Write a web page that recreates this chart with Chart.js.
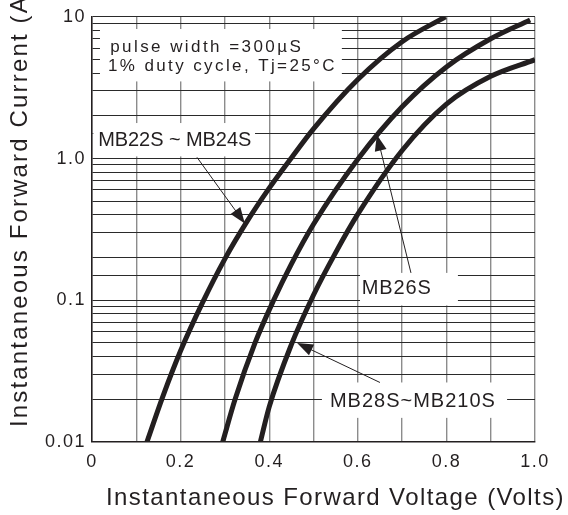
<!DOCTYPE html>
<html>
<head>
<meta charset="utf-8">
<script src="https://cdn.jsdelivr.net/npm/chart.js@4.4.1/dist/chart.umd.min.js"></script>
<style>
  html, body { margin: 0; padding: 0; background: #fff; }
  canvas { display: block; }
</style>
</head>
<body>
<canvas id="ivChart" width="568" height="515"></canvas>
<script>
// forward voltage (V) / forward current (A)
const voltsA = [0.124, 0.160, 0.200, 0.250, 0.300, 0.350, 0.400, 0.450, 0.500, 0.600, 0.700, 0.798];
const ampsA  = [0.010, 0.021, 0.044, 0.097, 0.196, 0.360, 0.618, 1.01, 1.62, 3.61, 6.67, 10.0];

const voltsB = [0.295, 0.323, 0.368, 0.410, 0.450, 0.500, 0.600, 0.700, 0.800, 0.900, 0.989];
const ampsB  = [0.010, 0.020, 0.050, 0.100, 0.180, 0.344, 0.990, 2.32, 4.43, 7.00, 9.50];

const voltsC = [0.380, 0.400, 0.450, 0.500, 0.550, 0.600, 0.700, 0.800, 0.900, 1.000];
const ampsC  = [0.010, 0.0177, 0.0486, 0.109, 0.217, 0.405, 1.14, 2.42, 3.80, 4.98];

const xTickLabels = ["0", "0.2", "0.4", "0.6", "0.8", "1.0"];
const yTickValues = [0.01, 0.1, 1, 10];
const yTickLabels = ["0.01", "0.1", "1.0", "10"];

const FONT = '"Liberation Sans", Arial, sans-serif';
const INK = "#231f20";

// white boxes behind the notes, [x0, x1, yTop, yBottom] in data units
const noteBoxes = [
  [0.018, 0.564, 8.2, 3.5],
  [0.003, 0.368, 1.78, 1.035],
  [0.605, 0.826, 0.156, 0.092],
  [0.519, 0.937, 0.0263, 0.0148]
];
// note texts: [text, x, y, font px, width px]
const noteTexts = [
  ["pulse width =300µS", 0.041, 6.13, 17, 193],
  ["1% duty cycle, Tj=25°C", 0.036, 4.45, 17, 229],
  ["MB22S ~ MB24S", 0.014, 1.34, 20, 153],
  ["MB26S", 0.609, 0.1206, 20, 70],
  ["MB28S~MB210S", 0.537, 0.0194, 20, 166]
];
// arrows: [fromX, fromY, toX, toY]
const noteArrows = [
  [0.237, 1.02, 0.345, 0.348],
  [0.720, 0.156, 0.643, 1.47],
  [0.650, 0.0263, 0.463, 0.0499]
];

function pts(xs, ys) { return xs.map((x, i) => ({ x: x, y: ys[i] })); }

function spacedText(ctx, str, x, y, size, width) {
  ctx.font = size + "px " + FONT;
  ctx.letterSpacing = "0px";
  const w = ctx.measureText(str).width;
  ctx.letterSpacing = ((width - w) / str.length) + "px";
  ctx.fillText(str, x, y);
  ctx.letterSpacing = "0px";
}

const notesPlugin = {
  id: "notes",
  beforeDraw(chart) { chart.ctx.letterSpacing = "1.5px"; },
  beforeDatasetsDraw(chart) {
    const ctx = chart.ctx, sx = chart.scales.x, sy = chart.scales.y;
    ctx.save();
    ctx.letterSpacing = "0px";
    ctx.fillStyle = "#fff";
    noteBoxes.forEach(b => {
      const x0 = sx.getPixelForValue(b[0]), x1 = sx.getPixelForValue(b[1]);
      const y0 = sy.getPixelForValue(b[2]), y1 = sy.getPixelForValue(b[3]);
      ctx.fillRect(x0, y0, x1 - x0, y1 - y0);
    });
    ctx.restore();
  },
  afterDatasetsDraw(chart) {
    const ctx = chart.ctx, sx = chart.scales.x, sy = chart.scales.y;
    ctx.save();
    ctx.fillStyle = INK;
    ctx.strokeStyle = INK;
    ctx.textAlign = "left";
    ctx.textBaseline = "middle";
    noteTexts.forEach(t => {
      spacedText(ctx, t[0], sx.getPixelForValue(t[1]), sy.getPixelForValue(t[2]), t[3], t[4]);
    });
    noteArrows.forEach(a => {
      const x0 = sx.getPixelForValue(a[0]), y0 = sy.getPixelForValue(a[1]);
      const x1 = sx.getPixelForValue(a[2]), y1 = sy.getPixelForValue(a[3]);
      const ang = Math.atan2(y1 - y0, x1 - x0);
      ctx.lineWidth = 1;
      ctx.beginPath();
      ctx.moveTo(x0, y0);
      ctx.lineTo(x1 - 12 * Math.cos(ang), y1 - 12 * Math.sin(ang));
      ctx.stroke();
      ctx.beginPath();
      ctx.moveTo(x1, y1);
      ctx.lineTo(x1 - 16 * Math.cos(ang) + 6 * Math.sin(ang), y1 - 16 * Math.sin(ang) - 6 * Math.cos(ang));
      ctx.lineTo(x1 - 16 * Math.cos(ang) - 6 * Math.sin(ang), y1 - 16 * Math.sin(ang) + 6 * Math.cos(ang));
      ctx.closePath();
      ctx.fill();
    });

    // axis titles
    ctx.textBaseline = "alphabetic";
    spacedText(ctx, "Instantaneous Forward Voltage (Volts)", 106, 505, 24, 459);
    ctx.translate(27, 427);
    ctx.rotate(-Math.PI / 2);
    spacedText(ctx, "Instantaneous Forward Current (A)", 0, 0, 24, 442);
    ctx.restore();
  },
  afterDraw(chart) { chart.ctx.letterSpacing = "0px"; }
};

const curve = (data) => ({
  data: data,
  showLine: true,
  borderColor: INK,
  borderWidth: 5,
  pointRadius: 0,
  cubicInterpolationMode: "monotone",
  borderCapStyle: "butt"
});

new Chart(document.getElementById("ivChart").getContext("2d"), {
  type: "scatter",
  data: {
    datasets: [curve(pts(voltsA, ampsA)), curve(pts(voltsB, ampsB)), curve(pts(voltsC, ampsC))]
  },
  options: {
    responsive: false,
    animation: false,
    events: [],
    layout: { padding: { top: 11.5, right: 33, left: 0, bottom: 0 } },
    plugins: { legend: { display: false }, tooltip: { enabled: false } },
    scales: {
      x: {
        type: "linear", min: 0, max: 1,
        afterFit: s => { s.height = 73; },
        ticks: {
          stepSize: 0.1, autoSkip: false, maxRotation: 0, padding: 9,
          color: INK, font: { family: FONT, size: 18 },
          callback: (v, i) => (i % 2 === 0 ? xTickLabels[i / 2] : "")
        },
        grid: { color: "#8c8c8c", lineWidth: 1.4, drawTicks: false },
        border: { color: INK, width: 1.5 }
      },
      y: {
        type: "logarithmic", min: 0.01, max: 10,
        afterFit: s => { s.width = 92; },
        ticks: {
          autoSkip: false, padding: 6,
          color: INK, font: { family: FONT, size: 18 },
          callback: v => {
            const k = yTickValues.findIndex(t => Math.abs(Math.log10(t) - Math.log10(v)) < 1e-6);
            return k >= 0 ? yTickLabels[k] : "";
          }
        },
        grid: { color: "#2a2a2a", lineWidth: 1.1, drawTicks: false },
        border: { color: INK, width: 1.5 }
      }
    }
  },
  plugins: [notesPlugin]
});
</script>
</body>
</html>
